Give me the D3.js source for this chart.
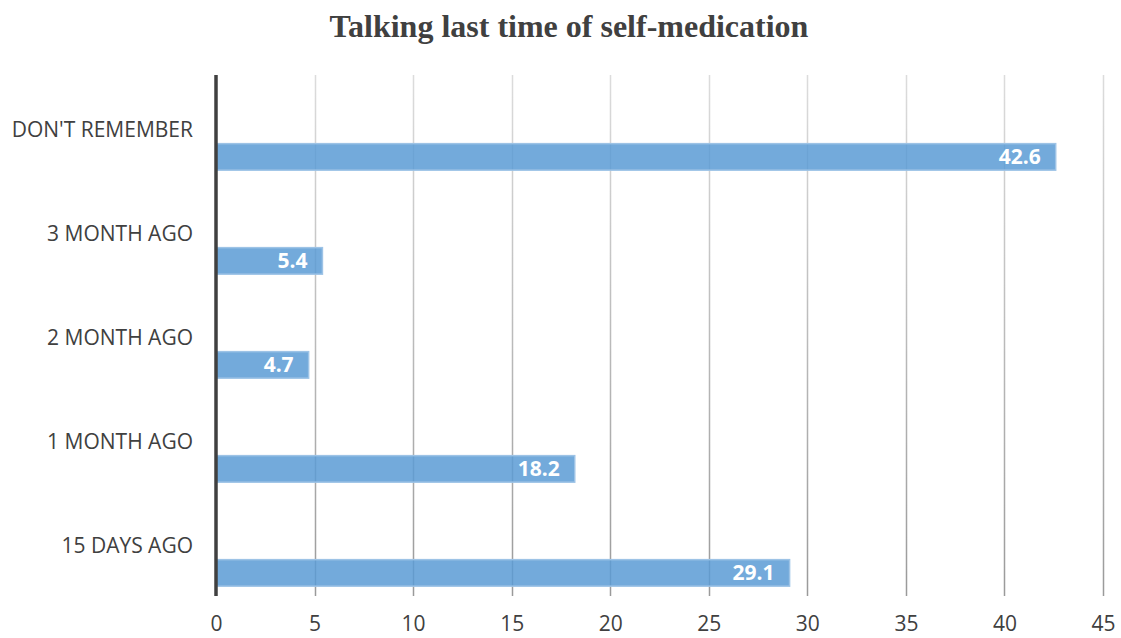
<!DOCTYPE html>
<html>
<head>
<meta charset="utf-8">
<script src="https://cdn.jsdelivr.net/npm/d3@7"></script>
<style>
  html, body { margin: 0; padding: 0; background: #fff; }
  svg { display: block; }
</style>
</head>
<body>
<svg id="chart" width="1121" height="638"></svg>
<script>
// Share of respondents by time since last self-medication (%)
const categories = ["DON'T REMEMBER", "3 MONTH AGO", "2 MONTH AGO", "1 MONTH AGO", "15 DAYS AGO"];
const values = [42.6, 5.4, 4.7, 18.2, 29.1];
const tickValues = [0, 5, 10, 15, 20, 25, 30, 35, 40, 45];
const title = "Talking last time of self-medication";

const svg = d3.select("#chart");
const margin = { top: 75, right: 18, bottom: 43, left: 216 };
const innerH = 595 - margin.top;

const x = d3.scaleLinear().domain([0, 45]).range([margin.left, 1103]);
const y = d3.scaleBand().domain(categories).range([margin.top, margin.top + innerH]).padding(0);
const step = y.step();

// Title
svg.append("text")
  .attr("x", 569).attr("y", 37)
  .attr("text-anchor", "middle")
  .attr("font-family", "'Liberation Serif', 'Times New Roman', serif")
  .attr("font-weight", "bold")
  .attr("font-size", 32)
  .attr("fill", "#404040")
  .text(title);

// Gridlines fade from light at the top to darker at the bottom
const defs = svg.append("defs");
const grad = defs.append("linearGradient")
  .attr("id", "gridFade")
  .attr("gradientUnits", "userSpaceOnUse")
  .attr("x1", 0).attr("y1", margin.top).attr("x2", 0).attr("y2", margin.top + innerH);
grad.append("stop").attr("offset", "0%").attr("stop-color", "#dcdcdc");
grad.append("stop").attr("offset", "100%").attr("stop-color", "#9a9a9a");

svg.append("g")
  .selectAll("line")
  .data(tickValues.filter(d => d > 0))
  .join("line")
  .attr("x1", d => Math.round(x(d)) + 0.5)
  .attr("x2", d => Math.round(x(d)) + 0.5)
  .attr("y1", margin.top)
  .attr("y2", margin.top + innerH + 1)
  .attr("stroke", "url(#gridFade)")
  .attr("stroke-width", 1.5);

// Bars
const barTop = d => y(d) + step * 0.66;
const barH = step * 0.255;
const rows = categories.map((c, i) => ({ cat: c, val: values[i] }));

svg.append("g")
  .selectAll("rect")
  .data(rows)
  .join("rect")
  .attr("x", x(0))
  .attr("y", d => barTop(d.cat))
  .attr("width", d => x(d.val) - x(0))
  .attr("height", barH)
  .attr("fill", "#5b9bd5")
  .attr("fill-opacity", 0.85)
  .attr("stroke", "#9dc3e6")
  .attr("stroke-width", 1.5);

// Value labels inside bar ends
svg.append("g")
  .selectAll("text")
  .data(rows)
  .join("text")
  .attr("x", d => x(d.val) - 15)
  .attr("y", d => barTop(d.cat) + barH / 2)
  .attr("dy", "0.36em")
  .attr("text-anchor", "end")
  .attr("font-family", "'Open Sans', 'Noto Sans', sans-serif")
  .attr("font-weight", "bold")
  .attr("font-size", 21)
  .attr("fill", "#ffffff")
  .text(d => d.val.toFixed(1));

// Category labels
svg.append("g")
  .selectAll("text")
  .data(categories)
  .join("text")
  .attr("x", 193)
  .attr("y", d => y(d) + step * 0.6)
  .attr("text-anchor", "end")
  .attr("font-family", "'Open Sans', 'Noto Sans', sans-serif")
  .attr("font-size", 21)
  .attr("fill", "#404040")
  .text(d => d);

// Bottom axis tick labels
const xAxis = d3.axisBottom(x).tickValues(tickValues).tickSize(0).tickPadding(0).tickFormat(d3.format("d"));
const gx = svg.append("g")
  .attr("transform", `translate(0, ${margin.top + innerH + 21})`)
  .call(xAxis);
gx.select(".domain").remove();
gx.selectAll("text")
  .attr("font-family", "'Open Sans', 'Noto Sans', sans-serif")
  .attr("font-size", 21)
  .attr("fill", "#404040");

// Category axis line
svg.append("line")
  .attr("x1", x(0)).attr("x2", x(0))
  .attr("y1", margin.top)
  .attr("y2", margin.top + innerH + 1)
  .attr("stroke", "#404040")
  .attr("stroke-width", 3.5);
</script>
</body>
</html>
